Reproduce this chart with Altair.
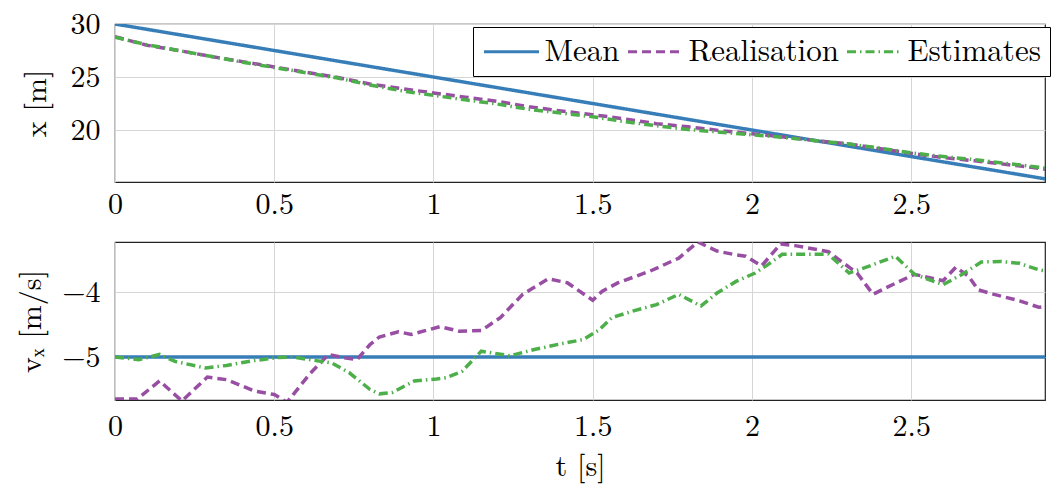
import altair as alt
import pandas as pd

FONT = "Latin Modern Roman"

series_names = ["Mean", "Realisation", "Estimates"]
series_colors = ["#377eb8", "#984ea3", "#4daf4a"]
series_dashes = [[1, 0], [9, 5], [9, 4, 1.5, 4]]

# ---- position panel ----
t_mean_pos = [0.0, 0.5, 1.0, 1.5, 2.0, 2.5, 2.97]
x_mean = [30.0, 27.5, 25.0, 22.5, 20.0, 17.5, 15.15]

t_pos = [0.0, 0.1, 0.2, 0.3, 0.4, 0.5, 0.6, 0.7, 0.8, 0.9, 1.0, 1.1, 1.2, 1.3,
         1.4, 1.5, 1.6, 1.7, 1.8, 1.9, 2.0, 2.1, 2.2, 2.3, 2.4, 2.5, 2.6, 2.7,
         2.8, 2.9, 2.97]
x_real = [28.8, 28.0, 27.5, 26.95, 26.45, 25.95, 25.45, 24.95, 24.35, 23.9,
          23.5, 23.1, 22.7, 22.2, 21.8, 21.45, 21.05, 20.6, 20.3, 19.95, 19.65,
          19.35, 19.0, 18.7, 18.25, 17.8, 17.4, 17.1, 16.75, 16.4, 16.1]
x_est = [28.75, 28.05, 27.5, 26.95, 26.4, 25.9, 25.4, 24.9, 24.25, 23.7,
         23.27, 22.85, 22.45, 21.95, 21.6, 21.25, 20.8, 20.4, 20.05, 19.8,
         19.55, 19.3, 19.0, 18.7, 18.3, 17.85, 17.5, 17.2, 16.85, 16.5, 16.2]

# ---- velocity panel ----
t_mean_vel = [0.0, 2.97]
v_mean = [-5.0, -5.0]

t_real_vel = [0.0, 0.07, 0.14, 0.21, 0.29, 0.35, 0.44, 0.50, 0.54, 0.61, 0.67,
              0.72, 0.76, 0.80, 0.83, 0.89, 0.93, 1.02, 1.08, 1.15, 1.21, 1.28,
              1.36, 1.42, 1.50, 1.53, 1.58, 1.68, 1.77, 1.83, 1.89, 1.94, 1.98,
              2.03, 2.09, 2.14, 2.24, 2.28, 2.33, 2.38, 2.42, 2.51, 2.60, 2.64,
              2.68, 2.71, 2.76, 2.84, 2.90, 2.97]
v_real = [-5.65, -5.65, -5.37, -5.68, -5.31, -5.35, -5.53, -5.58, -5.70, -5.27,
          -4.96, -5.01, -5.04, -4.81, -4.69, -4.61, -4.65, -4.53, -4.60, -4.59,
          -4.39, -4.03, -3.79, -3.85, -4.12, -3.98, -3.85, -3.67, -3.47, -3.22,
          -3.36, -3.41, -3.44, -3.59, -3.25, -3.28, -3.37, -3.52, -3.70, -4.03,
          -3.93, -3.72, -3.82, -3.61, -3.75, -3.96, -4.03, -4.13, -4.23, -4.19]

t_est_vel = [0.0, 0.075, 0.14, 0.19, 0.285, 0.35, 0.43, 0.505, 0.56, 0.61,
             0.68, 0.735, 0.80, 0.83, 0.87, 0.94, 1.01, 1.04, 1.09, 1.15, 1.24,
             1.32, 1.405, 1.47, 1.52, 1.56, 1.625, 1.70, 1.77, 1.84, 1.89, 1.95,
             2.01, 2.05, 2.095, 2.17, 2.24, 2.305, 2.37, 2.45, 2.51, 2.60, 2.66,
             2.72, 2.78, 2.84, 2.90, 2.97]
v_est = [-5.0, -5.04, -4.96, -5.07, -5.17, -5.13, -5.06, -5.01, -5.0, -5.04,
         -5.09, -5.24, -5.50, -5.57, -5.55, -5.37, -5.34, -5.32, -5.22, -4.91,
         -4.98, -4.88, -4.79, -4.73, -4.58, -4.39, -4.29, -4.19, -4.03, -4.21,
         -4.01, -3.83, -3.70, -3.57, -3.41, -3.41, -3.41, -3.70, -3.59, -3.44,
         -3.72, -3.88, -3.72, -3.53, -3.52, -3.55, -3.65, -3.71]

x_ticks = [0, 0.5, 1, 1.5, 2, 2.5]
pos_ticks = [20, 25, 30]
vel_ticks = [-5, -4]
t_domain = [0, 2.920]
pos_domain = [15.1, 30]
vel_domain = [-5.665, -3.22]


def long_frame(parts):
    rows = []
    for name, ts, vs in parts:
        for t, v in zip(ts, vs):
            rows.append({"t": t, "value": v, "series": name})
    return pd.DataFrame(rows)


pos_df = long_frame([("Mean", t_mean_pos, x_mean),
                     ("Realisation", t_pos, x_real),
                     ("Estimates", t_pos, x_est)])
vel_df = long_frame([("Mean", t_mean_vel, v_mean),
                     ("Realisation", t_real_vel, v_real),
                     ("Estimates", t_est_vel, v_est)])

color_scale = alt.Scale(domain=series_names, range=series_colors)
dash_scale = alt.Scale(domain=series_names, range=series_dashes)

W, H = 930, 158

legend = alt.Legend(
    title=None, orient="none", legendX=358, legendY=3, direction="horizontal",
    columns=3, symbolType="M-2,0H2", symbolSize=756, symbolStrokeWidth=3.2,
    symbolOffset=14, symbolFillColor="transparent",
    labelFont=FONT, labelFontSize=31, labelColor="black", labelOffset=17.5,
    strokeColor="black", fillColor="white", padding=9, columnPadding=1,
    cornerRadius=0,
)


def panel(df, ydomain, yvalues, ytitle, title_x, show_legend, xlab_pad, xtitle):
    if xtitle is None:
        x_axis = alt.Axis(values=x_ticks, format="~g", labelPadding=xlab_pad,
                          labelFlush=False, title=None)
    else:
        x_axis = alt.Axis(values=x_ticks, format="~g", labelPadding=xlab_pad,
                          labelFlush=False, title=xtitle, titleY=66,
                          titleBaseline="middle")
    y_axis = alt.Axis(values=yvalues, format="~g", title=ytitle,
                      titleX=title_x, titleY=H / 2, titleBaseline="middle",
                      titleAngle=270, labelPadding=15, labelFlush=False)
    layers = []
    for name in series_names:
        layers.append(
            alt.Chart(df)
            .transform_filter(alt.datum.series == name)
            .mark_line(clip=True, strokeWidth=3.5)
            .encode(
                x=alt.X("t:Q", scale=alt.Scale(domain=t_domain, nice=False, zero=False), axis=x_axis),
                y=alt.Y("value:Q", scale=alt.Scale(domain=ydomain, nice=False, zero=False), axis=y_axis),
                color=alt.Color("series:N", scale=color_scale,
                                legend=legend if show_legend else None),
                strokeDash=alt.StrokeDash("series:N", scale=dash_scale,
                                          legend=legend if show_legend else None),
                order="t:Q",
            )
        )
    return alt.layer(*layers).properties(width=W, height=H)


top = panel(pos_df, pos_domain, pos_ticks, "x [m]", -79, True, 7, None)
bottom = panel(vel_df, vel_domain, vel_ticks, "vₓ [m/s]", -84, False, 11, "t [s]")

chart = (
    alt.vconcat(top, bottom, spacing=21)
    .resolve_legend(color="independent", strokeDash="independent")
    .properties(padding={"left": 7, "top": 0, "right": 0, "bottom": 3},
                background="white")
    .configure_view(stroke="#222222", strokeWidth=1.2)
    .configure_axis(
        labelFont=FONT, labelFontSize=30, labelColor="black",
        titleFont=FONT, titleFontSize=30, titleColor="black", titleFontWeight="normal",
        grid=True, gridColor="#d6d6d6", gridWidth=1,
        domain=False, ticks=False, tickSize=0,
    )
)

chart.save("out.html", embed_options={"renderer": "svg", "actions": False})
